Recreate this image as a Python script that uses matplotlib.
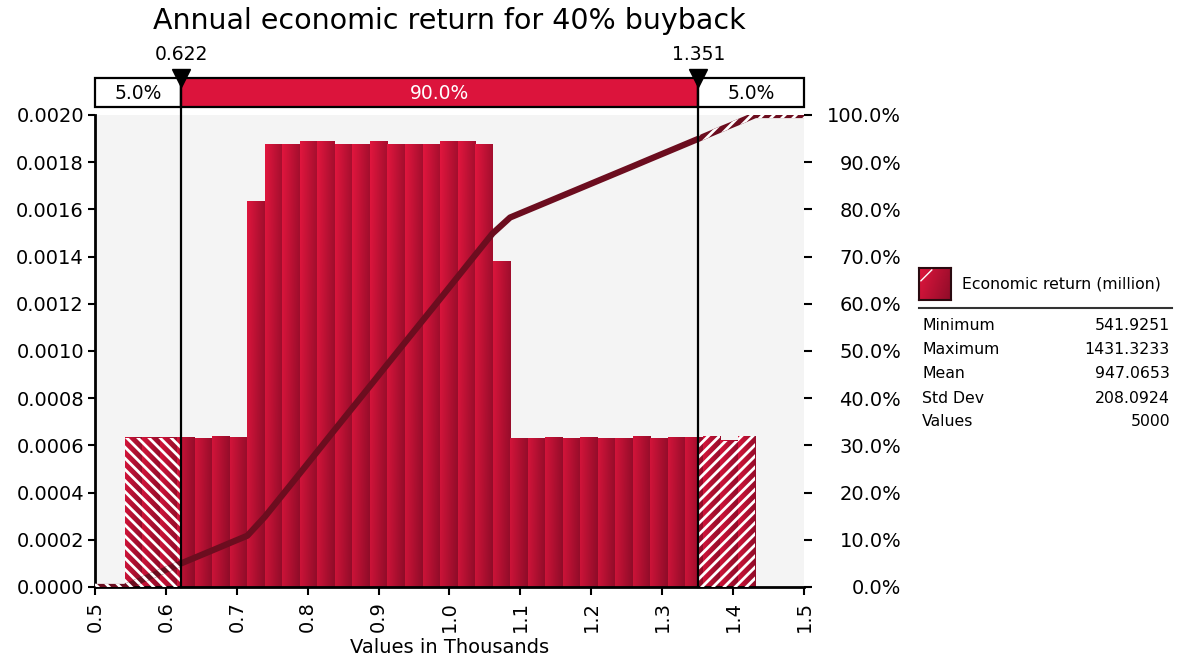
import matplotlib
matplotlib.use("Agg")
import matplotlib.pyplot as plt
import numpy as np
from matplotlib.patches import Rectangle
from matplotlib.lines import Line2D
from matplotlib.transforms import blended_transform_factory
from matplotlib.ticker import FuncFormatter

plt.rcParams['font.family'] = ['DejaVu Sans']
plt.rcParams['hatch.linewidth'] = 2.0

# simulation summary (millions)
stat_names = ['Minimum', 'Maximum', 'Mean', 'Std Dev', 'Values']
stat_values = [541.9251, 1431.3233, 947.0653, 208.0924, 5000]

# histogram density per bin, 36 equal bins between min and max
density = [
    0.000632, 0.000632, 0.000632, 0.000632, 0.000630, 0.000636, 0.000632,
    0.001633,
    0.001876, 0.001876, 0.001888, 0.001888, 0.001876, 0.001876, 0.001888,
    0.001876, 0.001876, 0.001876, 0.001888, 0.001888, 0.001876,
    0.001378,
    0.000631, 0.000630, 0.000632, 0.000631, 0.000632, 0.000630, 0.000631,
    0.000638, 0.000631, 0.000632, 0.000632, 0.000638, 0.000620, 0.000638,
]

# 5% / 95% delimiters (thousands) and the band percentages
p_low, p_high = 0.622, 1.351
band_pcts = [5.0, 90.0, 5.0]

title = 'Annual economic return for 40% buyback'
series_name = 'Economic return (million)'

W, H = 1181, 671
fig = plt.figure(figsize=(W / 100, H / 100), dpi=100)

ax_l, ax_r, ax_b, ax_t = 95, 804, 587, 115
ax = fig.add_axes([ax_l / W, 1 - ax_b / H, (ax_r - ax_l) / W, (ax_b - ax_t) / H])
ax.set_facecolor('#f4f4f4')

edges = np.linspace(stat_values[0], stat_values[1], len(density) + 1) / 1000.0
dens = np.array(density)
ymax = 0.0020

light = np.array([226, 22, 62]) / 255.0
dark = np.array([118, 9, 34]) / 255.0

# left tail hatched one way, right tail the other
tails = [(0.5, p_low, '\\\\\\'), (p_high, 1.5, '///')]


def gradient(h):
    xf = np.linspace(0, 1, 20)
    yf = np.linspace(0, h, 60) / ymax
    t = 0.55 * xf[None, :] + 0.22 * (1 - yf[:, None])
    return light[None, None, :] * (1 - t[..., None]) + dark[None, None, :] * t[..., None]


for x0, x1, h in zip(edges[:-1], edges[1:], dens):
    ax.imshow(gradient(h), extent=(x0, x1, 0, h), origin='lower',
              aspect='auto', interpolation='bilinear', zorder=2)
    for a, b, hatch in tails:
        lo, hi = max(x0, a), min(x1, b)
        if hi > lo:
            ax.add_patch(Rectangle((lo, 0), hi - lo, h, facecolor='none',
                                   edgecolor='white', hatch=hatch, lw=0, zorder=3))

ax.set_xlim(0.5, 1.5)
ax.set_ylim(0, ymax)
ax.set_xticks(np.arange(0.5, 1.51, 0.1))
ax.xaxis.set_major_formatter(FuncFormatter(lambda v, p: f'{v:.1f}'))
ax.set_yticks(np.arange(0, ymax + 1e-9, 0.0002))
ax.yaxis.set_major_formatter(FuncFormatter(lambda v, p: f'{v:.4f}'))
ax.tick_params(axis='y', length=5, width=1.5, labelsize=14, pad=3)
ax.tick_params(axis='x', length=6, width=1.5, labelsize=14, pad=4, labelrotation=90)
for s in ['top', 'right']:
    ax.spines[s].set_visible(False)
for s in ['left', 'bottom']:
    ax.spines[s].set_linewidth(2)
ax.set_xlabel('Values in Thousands', fontsize=14, labelpad=4)

# cumulative curve on the right axis
ax2 = ax.twinx()
cum = np.concatenate([[0], np.cumsum(dens * np.diff(edges) * 1000)])
cum = cum / cum[-1]
cx = np.concatenate([[0.5], edges, [1.5]])
cy = np.concatenate([[0], cum, [1]])
ax2.plot(cx, cy, color='#6c0d1f', lw=4.5, solid_joinstyle='round', zorder=4)
for a, b, hatch in tails:
    xs = np.concatenate([[a], cx[(cx > a) & (cx < b)], [b]])
    ys = np.interp(xs, cx, cy)
    ax2.fill_between(xs, ys - 0.007, ys + 0.007, facecolor='none',
                     edgecolor='white', hatch=hatch, lw=0, zorder=5)
ax2.set_ylim(0, 1)
ax2.set_yticks(np.arange(0, 1.001, 0.1))
ax2.yaxis.set_major_formatter(FuncFormatter(lambda v, p: f'{v * 100:.1f}%'))
ax2.tick_params(axis='y', length=6, width=1.5, labelsize=14, pad=64)
for lab in ax2.get_yticklabels():
    lab.set_horizontalalignment('right')
for s in ax2.spines.values():
    s.set_visible(False)
ax2.set_xlim(0.5, 1.5)

# delimiter band above the plot
trans = blended_transform_factory(ax.transData, fig.transFigure)
band_b, band_t = 1 - 107 / H, 1 - 78 / H
bounds = [0.5, p_low, p_high, 1.5]
for i, pct in enumerate(band_pcts):
    x0, x1 = bounds[i], bounds[i + 1]
    mid = i == 1
    fig.add_artist(Rectangle((x0, band_b), x1 - x0, band_t - band_b, transform=trans,
                             facecolor='#dc143c' if mid else 'white',
                             edgecolor='black', lw=1.6, clip_on=False))
    fig.text((x0 + x1) / 2, (band_b + band_t) / 2 - 0.002, f'{pct:.1f}%', transform=trans,
             ha='center', va='center', fontsize=13.5,
             color='white' if mid else 'black')

ax_top_fig = 1 - ax_b / H
for xv in [p_low, p_high]:
    fig.add_artist(Line2D([xv, xv], [ax_top_fig, band_t], transform=trans,
                          color='black', lw=1.6, zorder=6))
    fig.add_artist(Line2D([xv], [band_t], transform=trans, marker='v', markersize=12.5,
                          color='black', zorder=7))
    fig.text(xv, 1 - 64 / H, f'{xv:.3f}', transform=trans, ha='center', va='bottom',
             fontsize=13.5)

fig.text((ax_l + ax_r) / 2 / W, 1 - 21 / H, title, ha='center', va='center', fontsize=20.5)

# legend swatch and statistics table
sw = fig.add_axes([919 / W, 1 - 300 / H, 32 / W, 32 / H])
sw.imshow(gradient(ymax * 0.9)[::-1], extent=(0, 1, 0, 1), aspect='auto',
          interpolation='bilinear')
sw.plot([0.06, 0.4], [0.6, 0.94], color='white', lw=1)
sw.set_xlim(0, 1)
sw.set_ylim(0, 1)
sw.set_xticks([])
sw.set_yticks([])
for s in sw.spines.values():
    s.set_linewidth(1.5)
    s.set_color('#2a0a10')
fig.text(962 / W, 1 - 284 / H, series_name, ha='left', va='center', fontsize=11.3)
fig.add_artist(Line2D([919 / W, 1172 / W], [1 - 308 / H] * 2, color='#333333', lw=1.5))
for i, (name, val) in enumerate(zip(stat_names, stat_values)):
    y = 1 - (326 + 24 * i) / H
    txt = f'{val:d}' if isinstance(val, int) else f'{val:.4f}'
    fig.text(922 / W, y, name, ha='left', va='center', fontsize=11.3)
    fig.text(1170 / W, y, txt, ha='right', va='center', fontsize=11.3)

fig.savefig('out.png', dpi=100)
